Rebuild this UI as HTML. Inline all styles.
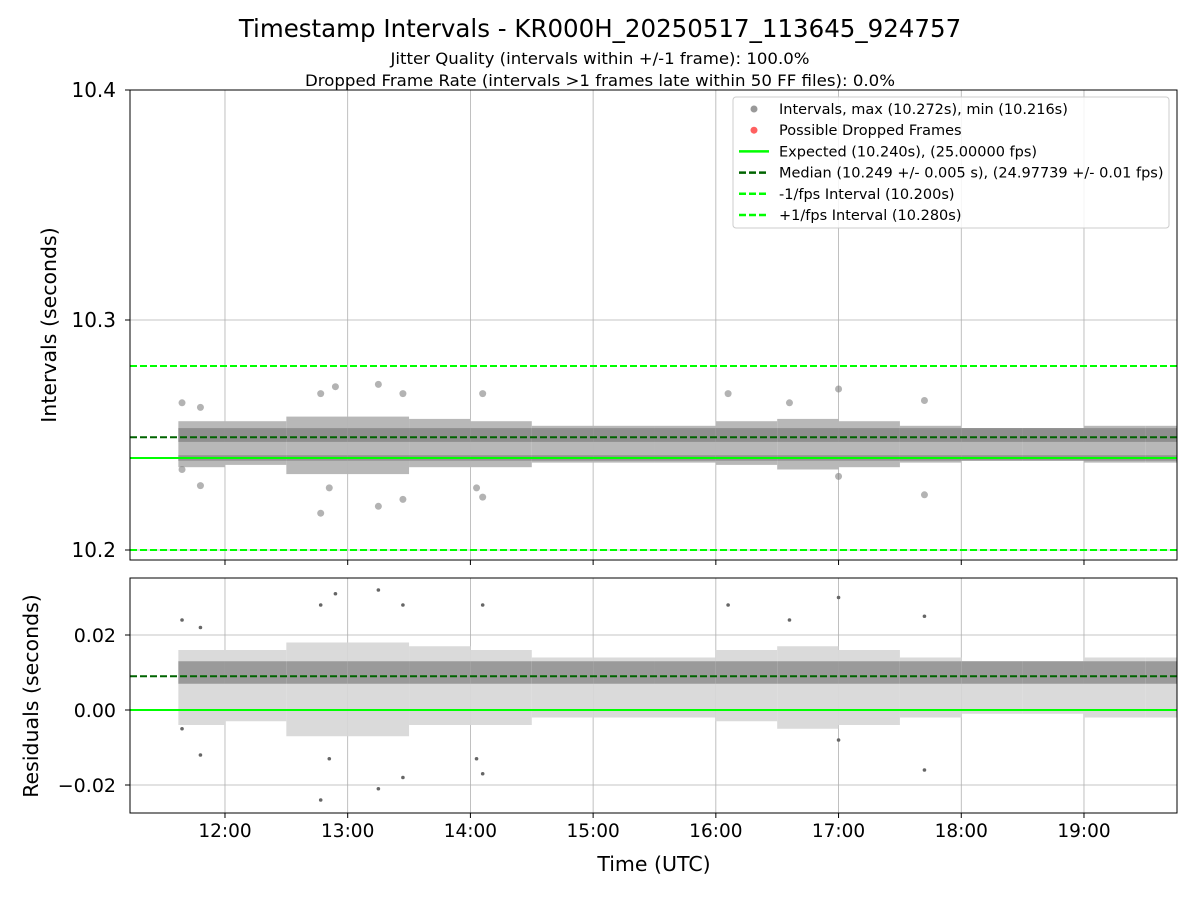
<!DOCTYPE html>
<html><head><meta charset="utf-8"><style>
body{margin:0;background:#fff;font-family:"Liberation Sans","DejaVu Sans",sans-serif}
svg text{font-family:"DejaVu Sans","Liberation Sans",sans-serif}
</style></head><body>
<svg id="c" width="1200" height="900" xmlns="http://www.w3.org/2000/svg"></svg>
<script>
const binStart=[11.62,12.0,12.5,13.0,13.5,14.0,14.5,15.0,15.5,16.0,16.5,17.0,17.5,18.0,18.5,19.0,19.5];
const binEnd=[12.0,12.5,13.0,13.5,14.0,14.5,15.0,15.5,16.0,16.5,17.0,17.5,18.0,18.5,19.0,19.5,19.76];
const spreadLow=[10.236,10.237,10.233,10.233,10.236,10.236,10.238,10.238,10.238,10.237,10.235,10.236,10.238,10.239,10.239,10.238,10.238];
const spreadHigh=[10.256,10.256,10.258,10.258,10.257,10.256,10.254,10.254,10.254,10.256,10.257,10.256,10.254,10.253,10.253,10.254,10.254];
const upperLow=[10.247,10.247,10.247,10.247,10.247,10.247,10.247,10.247,10.247,10.247,10.247,10.247,10.247,10.247,10.247,10.247,10.247];
const upperHigh=[10.253,10.253,10.253,10.253,10.253,10.253,10.253,10.253,10.253,10.253,10.253,10.253,10.253,10.253,10.253,10.253,10.253];
const outTimes=[11.65,11.65,11.8,11.8,12.78,12.78,12.9,12.85,13.25,13.25,13.45,13.45,14.1,14.05,14.1,16.1,16.6,17.0,17.7,17.7,17.0];
const outValues=[10.264,10.235,10.228,10.262,10.216,10.268,10.271,10.227,10.272,10.219,10.268,10.222,10.268,10.227,10.223,10.268,10.264,10.270,10.265,10.224,10.232];
const expected=10.240, median=10.249, lowLim=10.200, highLim=10.280;
const topTicks=[10.2,10.3,10.4];
const resTicks=[-0.02,0.00,0.02];
const resTickLabels=["\u22120.02","0.00","0.02"];
const xTicks=[12,13,14,15,16,17,18,19];
const xTickLabels=["12:00","13:00","14:00","15:00","16:00","17:00","18:00","19:00"];

const svg=document.getElementById('c');
const NS="http://www.w3.org/2000/svg";
const L=130,R=1177,T1=90,B1=560,T2=578,B2=813;
const X0=11.226,X1=19.758;
const x=h=>L+(h-X0)/(X1-X0)*(R-L);
const y1=v=>90+(10.4-v)/0.1*230;
const y2=v=>710-v/0.02*75;
function el(tag,a,p){const e=document.createElementNS(NS,tag);for(const k in a)e.setAttribute(k,a[k]);(p||svg).appendChild(e);return e;}
function txt(s,a,name){const e=el('text',a);e.textContent=s;return e;}

const defs=el('defs',{});
const c1=el('clipPath',{id:'c1'},defs);el('rect',{x:L,y:T1,width:R-L,height:B1-T1},c1);
const c2=el('clipPath',{id:'c2'},defs);el('rect',{x:L,y:T2,width:R-L,height:B2-T2},c2);
const g1=el('g',{'clip-path':'url(#c1)'});


const g2=el('g',{'clip-path':'url(#c2)'});



xTicks.forEach(h=>{
  el('line',{x1:x(h),x2:x(h),y1:T1,y2:B1,stroke:'#b0b0b0','stroke-width':0.8},g1);
  el('line',{x1:x(h),x2:x(h),y1:T2,y2:B2,stroke:'#b0b0b0','stroke-width':0.8},g2);
});
topTicks.forEach(v=>el('line',{x1:L,x2:R,y1:y1(v),y2:y1(v),stroke:'#b0b0b0','stroke-width':0.8},g1));
resTicks.forEach(v=>el('line',{x1:L,x2:R,y1:y2(v),y2:y2(v),stroke:'#b0b0b0','stroke-width':0.8},g2));

binStart.forEach((s,i)=>{
  const e=binEnd[i];
  let r=el('rect',{x:x(s),y:y1(spreadHigh[i]),width:x(e)-x(s),height:y1(spreadLow[i])-y1(spreadHigh[i]),fill:'#b8b8b8'},g1);
  
  
  r=el('rect',{x:x(s),y:y1(upperHigh[i]),width:x(e)-x(s),height:y1(upperLow[i])-y1(upperHigh[i]),fill:'#8f8f8f'},g1);
  
  
  r=el('rect',{x:x(s),y:y1(expected+0.0012),width:x(e)-x(s),height:y1(expected-0.0012)-y1(expected+0.0012),fill:'#939393'},g1);
  
  
  r=el('rect',{x:x(s),y:y2(spreadHigh[i]-expected),width:x(e)-x(s),height:y2(spreadLow[i]-expected)-y2(spreadHigh[i]-expected),fill:'#dadada'},g2);
  
  
  r=el('rect',{x:x(s),y:y2(upperHigh[i]-expected),width:x(e)-x(s),height:y2(upperLow[i]-expected)-y2(upperHigh[i]-expected),fill:'#9a9a9a'},g2);
  
  
});
outTimes.forEach((t,i)=>{
  let c=el('circle',{cx:x(t),cy:y1(outValues[i]),r:3.5,fill:'#808080','fill-opacity':0.6},g1);
  
  
  c=el('circle',{cx:x(t),cy:y2(outValues[i]-expected),r:1.8,fill:'#666'},g2);
  
  
});

function hl(g,yy,col,dash,name){const l=el('line',{x1:L,x2:R,y1:yy,y2:yy,stroke:col,'stroke-width':2,'stroke-dasharray':dash||'none'},g);}
hl(g1,y1(expected),'#00ff00','','expected-line');
hl(g1,y1(median),'#006400','7,3','median-line');
hl(g1,y1(lowLim),'#00ff00','7,3','minus-fps-line');
hl(g1,y1(highLim),'#00ff00','7,3','plus-fps-line');
hl(g2,y2(0),'#00ff00','','residual-expected-line');
hl(g2,y2(median-expected),'#006400','7,3','residual-median-line');

el('rect',{x:L,y:T1,width:R-L,height:B1-T1,fill:'none',stroke:'#000','stroke-width':1});
el('rect',{x:L,y:T2,width:R-L,height:B2-T2,fill:'none',stroke:'#000','stroke-width':1});

topTicks.forEach(v=>{el('line',{x1:L-5,x2:L,y1:y1(v),y2:y1(v),stroke:'#000'});txt(v.toFixed(1),{x:L-14,y:y1(v)+7,'text-anchor':'end','font-size':20},'y-tick-label');});
resTicks.forEach((v,i)=>{el('line',{x1:L-5,x2:L,y1:y2(v),y2:y2(v),stroke:'#000'});txt(resTickLabels[i],{x:L-14,y:y2(v)+7,'text-anchor':'end','font-size':19},'residual-tick-label');});
xTicks.forEach((h,i)=>{el('line',{x1:x(h),x2:x(h),y1:B1,y2:B1+5,stroke:'#000'});el('line',{x1:x(h),x2:x(h),y1:B2,y2:B2+5,stroke:'#000'});txt(xTickLabels[i],{x:x(h),y:B2+24,'text-anchor':'middle','font-size':18.5},'x-tick-label');});

txt('Timestamp Intervals - KR000H_20250517_113645_924757',{x:600,y:37,'text-anchor':'middle','font-size':24.5},'chart-title');
txt('Jitter Quality (intervals within +/-1 frame): 100.0%',{x:600,y:64,'text-anchor':'middle','font-size':16,'textLength':419,'lengthAdjust':'spacingAndGlyphs'},'subtitle-jitter');
txt('Dropped Frame Rate (intervals >1 frames late within 50 FF files): 0.0%',{x:600,y:86,'text-anchor':'middle','font-size':16,'textLength':590,'lengthAdjust':'spacingAndGlyphs'},'subtitle-dropped');
txt('Intervals (seconds)',{x:56,y:325,'text-anchor':'middle','font-size':20.5,transform:'rotate(-90 56 325)'},'y-axis-title');
txt('Residuals (seconds)',{x:38,y:696,'text-anchor':'middle','font-size':20.5,transform:'rotate(-90 38 696)'},'residual-axis-title');
txt('Time (UTC)',{x:654,y:871,'text-anchor':'middle','font-size':20.5},'x-axis-title');

const lg=el('g',{});


el('rect',{x:733,y:97,width:436,height:131,rx:3,fill:'#fff','fill-opacity':0.85,stroke:'#ccc'},lg);
const items=[['dot','#999','Intervals, max (10.272s), min (10.216s)'],['dot','#ff6060','Possible Dropped Frames'],['line','#00ff00','Expected (10.240s), (25.00000 fps)'],['dash','#006400','Median (10.249 +/- 0.005 s), (24.97739 +/- 0.01 fps)'],['dash','#00ff00','-1/fps Interval (10.200s)'],['dash','#00ff00','+1/fps Interval (10.280s)']];
items.forEach((it,i)=>{
  const yy=109+i*21.2;
  if(it[0]==='dot')el('circle',{cx:754,cy:yy,r:3.5,fill:it[1]},lg);
  else el('line',{x1:739,x2:769,y1:yy,y2:yy,stroke:it[1],'stroke-width':2.5,'stroke-dasharray':it[0]==='dash'?'7,3':'none'},lg);
  const t=el('text',{x:779,y:yy+5,'font-size':14.5},lg);t.textContent=it[2];
  
  
});
</script>
</body></html>
